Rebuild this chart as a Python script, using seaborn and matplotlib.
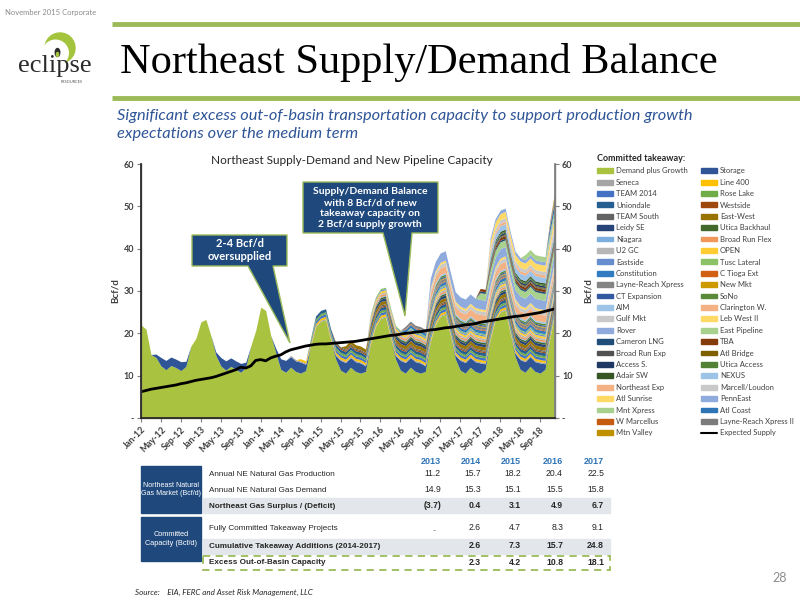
import matplotlib.pyplot as plt
import matplotlib.patches as mpatches
from matplotlib.lines import Line2D
import seaborn as sns
import pandas as pd
import numpy as np

sns.set_theme(style='white')
plt.rcParams['font.family'] = ['Lato', 'DejaVu Sans']

# monthly chart data, Jan-12 .. Dec-18
months = pd.date_range('2012-01-01', '2018-12-01', freq='MS')

demand = [
    22.0, 21.0, 15.0, 14.3, 12.3, 11.4, 12.4, 11.9, 11.2, 12.2, 17.0, 18.8,
    22.7, 23.3, 19.5, 14.8, 12.3, 11.3, 12.2, 11.5, 10.8, 12.0, 17.0, 20.7,
    26.2, 25.4, 19.5, 15.5, 11.5, 10.8, 12.0, 11.0, 10.6, 11.2, 17.0, 21.5,
    22.8, 23.2, 18.5, 14.0, 11.3, 10.6, 12.0, 11.0, 10.6, 11.0, 17.5, 21.5,
    23.5, 23.8, 19.0, 14.0, 11.3, 10.6, 12.0, 11.0, 10.6, 11.0, 18.0, 22.0,
    24.0, 24.5, 19.5, 14.0, 11.3, 10.6, 12.0, 11.0, 10.6, 11.5, 18.5, 23.0,
    25.0, 25.5, 20.0, 14.5, 11.5, 10.8, 12.2, 11.0, 10.6, 11.5, 19.0, 25.0,
]
storage = [
    0, 0, 0, 0.8, 2.0, 2.2, 2.0, 2.0, 2.1, 1.2, 0, 0,
    0, 0, 0, 0.8, 2.0, 2.2, 2.0, 2.0, 2.1, 1.2, 0, 0,
    0, 0, 0, 1.0, 2.5, 2.8, 2.5, 2.5, 2.6, 1.5, 0, 0,
    0, 0, 0, 0.8, 2.3, 2.5, 2.3, 2.3, 2.4, 1.3, 0, 0,
    0, 0, 0, 0.8, 2.3, 2.5, 2.3, 2.3, 2.4, 1.3, 0, 0,
    0, 0, 0, 0.8, 2.3, 2.5, 2.3, 2.3, 2.4, 1.3, 0, 0,
    0, 0, 0, 0.8, 2.3, 2.5, 2.3, 2.3, 2.4, 1.3, 0, 0,
]
expected_supply = [
    6.2, 6.5, 6.8, 7.0, 7.2, 7.4, 7.6, 7.8, 8.1, 8.3, 8.6, 8.9,
    9.1, 9.3, 9.5, 9.8, 10.2, 10.6, 11.0, 11.4, 12.0, 11.8, 12.3, 13.6,
    13.8, 13.5, 14.2, 14.6, 14.9, 15.6, 16.1, 16.4, 16.7, 17.0, 17.2, 17.4,
    17.5, 17.5, 17.6, 17.7, 17.8, 17.9, 18.0, 18.1, 18.3, 18.5, 18.7, 18.9,
    19.1, 19.3, 19.5, 19.6, 19.8, 20.0, 20.1, 20.3, 20.4, 20.6, 20.8, 20.9,
    21.1, 21.3, 21.4, 21.6, 21.8, 22.0, 22.1, 22.3, 22.6, 22.8, 23.0, 23.2,
    23.4, 23.6, 23.8, 24.0, 24.1, 24.3, 24.5, 24.7, 24.9, 25.2, 25.5, 25.8,
]

# committed takeaway projects: in-service month and capacity (Bcf/d)
takeaway_names = [
    'Seneca', 'Line 400', 'TEAM 2014', 'Rose Lake', 'Uniondale', 'Westside',
    'TEAM South', 'East-West', 'Leidy SE', 'Utica Backhaul', 'Niagara',
    'Broad Run Flex', 'U2 GC', 'OPEN', 'Eastside', 'Tusc Lateral',
    'Constitution', 'C Tioga Ext', 'Layne-Reach Xpress', 'New Mkt',
    'CT Expansion', 'SoNo', 'AIM', 'Clarington W.', 'Gulf Mkt', 'Leb West II',
    'Rover', 'East Pipeline', 'Cameron LNG', 'TBA', 'Broad Run Exp',
    'Atl Bridge', 'Access S.', 'Utica Access', 'Adair SW', 'NEXUS',
    'Northeast Exp', 'Marcell/Loudon', 'Atl Sunrise', 'PennEast',
    'Mnt Xpress', 'Atl Coast', 'W Marcellus', 'Layne-Reach Xpress II',
    'Mtn Valley',
]
takeaway_start = [
    '2014-07', '2014-09', '2014-11', '2014-11', '2014-12', '2015-04',
    '2015-04', '2015-06', '2015-11', '2015-11', '2015-11',
    '2015-11', '2015-11', '2015-11', '2015-11', '2015-11',
    '2016-06', '2016-06', '2016-06', '2016-11',
    '2016-11', '2016-11', '2016-11', '2016-11', '2016-11', '2016-11',
    '2016-11', '2017-09', '2017-09', '2017-09', '2017-11',
    '2017-11', '2017-11', '2017-11', '2017-11', '2017-11',
    '2017-11', '2017-11', '2017-11', '2017-11',
    '2018-06', '2018-11', '2018-11', '2018-11',
    '2018-12',
]
takeaway_bcfd = [
    0.3, 0.5, 0.6, 0.5, 0.7, 0.3,
    0.3, 0.8, 0.6, 0.4, 0.2,
    0.4, 0.4, 0.5, 0.3, 0.3,
    0.7, 0.2, 0.6, 0.2,
    0.3, 0.4, 0.4, 1.6, 0.8, 0.5,
    2.2, 1.6, 0.4, 0.6, 0.2,
    0.2, 0.4, 0.3, 0.4, 1.3,
    0.6, 0.8, 1.5, 0.8,
    1.2, 1.5, 0.5, 0.6,
    1.0,
]
takeaway_colors = [
    '#a5a5a5', '#ffc000', '#4472c4', '#70ad47', '#255e91', '#9e480e',
    '#636363', '#997300', '#264478', '#43682b', '#7cafdd',
    '#f1975a', '#b7b7b7', '#ffcd33', '#698ed0', '#8cc168',
    '#327dc2', '#d26012', '#848484', '#cc9a00',
    '#335aa1', '#5a8a39', '#9dc3e6', '#f4b183', '#c9c9c9', '#ffd966',
    '#8faadc', '#a9d18e', '#1f4e79', '#843c0c', '#525252',
    '#7f6000', '#203864', '#548235', '#375623', '#9dc3e6',
    '#f4b183', '#c9c9c9', '#ffd966', '#8faadc',
    '#a9d18e', '#2e75b6', '#c55a11', '#7b7b7b',
    '#bf9000',
]

# table under the chart
years = ['2013', '2014', '2015', '2016', '2017']
ne_production = [11.2, 15.7, 18.2, 20.4, 22.5]
ne_demand = [14.9, 15.3, 15.1, 15.5, 15.8]
ne_surplus = [-3.7, 0.4, 3.1, 4.9, 6.7]
committed_projects = [None, 2.6, 4.7, 8.3, 9.1]
cumulative_additions = [None, 2.6, 7.3, 15.7, 24.8]
excess_capacity = [None, 2.3, 4.2, 10.8, 18.1]

# build stacked layers
x = np.arange(len(months))
layer_names = ['Demand plus Growth', 'Storage'] + takeaway_names
layer_colors = ['#a9c23f', '#2f5597'] + takeaway_colors
layers = [np.array(demand), np.array(storage)]
for start, cap in zip(takeaway_start, takeaway_bcfd):
    layers.append(np.where(months >= pd.Timestamp(start), cap, 0.0))
df = pd.DataFrame(np.column_stack(layers), index=x, columns=layer_names)

fig = plt.figure(figsize=(8, 6), dpi=100)
fig.patch.set_facecolor('white')

ax = fig.add_axes([141 / 800, 1 - 418 / 600, 414 / 800, 254 / 600])
ax.stackplot(df.index, df.T.values, colors=layer_colors, linewidth=0)
sns.lineplot(x=x, y=expected_supply, ax=ax, color='black', linewidth=2)
ax.set_xlim(0, len(months) - 1)
ax.set_ylim(0, 60)
yt = [0, 10, 20, 30, 40, 50, 60]
ylab = ['-'] + [str(v) for v in yt[1:]]
ax.set_yticks(yt)
ax.set_yticklabels(ylab, fontsize=6.5, color='#404040', fontweight='bold')
ax.set_xticks(x[::4])
ax.set_xticklabels([m.strftime('%b-%y') for m in months[::4]], rotation=45,
                   ha='right', rotation_mode='anchor', fontsize=6.5,
                   color='#404040', fontweight='bold')
ax.set_ylabel('Bcf/d', fontsize=7, fontweight='bold', color='#404040', labelpad=3)
ax.spines['top'].set_visible(False)
for s in ['left', 'bottom', 'right']:
    ax.spines[s].set_color('#7f7f7f')
    ax.spines[s].set_linewidth(1)
ax.tick_params(axis='both', direction='out', length=3, width=0.8,
               color='#7f7f7f', left=True, bottom=True, pad=2)

ax2 = ax.twinx()
ax2.set_ylim(0, 60)
ax2.set_yticks(yt)
ax2.set_yticklabels(ylab, fontsize=6.5, color='#404040', fontweight='bold')
ax2.set_ylabel('Bcf/d', fontsize=7, fontweight='bold', color='#404040', labelpad=8)
ax2.tick_params(axis='y', direction='out', length=3, width=0.8,
                color='#7f7f7f', right=True, pad=2)
ax2.spines['top'].set_visible(False)
ax2.spines['right'].set_color('#7f7f7f')
ax2.grid(False)

# legend, filled row by row like the original
handles = [mpatches.Patch(color=c, label=n) for n, c in zip(layer_names, layer_colors)]
handles.append(Line2D([], [], color='black', lw=1.5, label='Expected Supply'))
ordered = handles[0::2] + handles[1::2]
fig.legend(handles=ordered, ncol=2, loc='upper left',
           bbox_to_anchor=(597 / 800, 1 - 154 / 600), frameon=False,
           fontsize=5.5, handlelength=2.15, handleheight=0.6, labelspacing=0.575,
           columnspacing=1.7, handletextpad=0.35, borderpad=0, borderaxespad=0,
           title='Committed takeaway:', alignment='left',
           title_fontproperties={'weight': 'bold', 'size': 6.5},
           labelcolor='#404040')

# overlay in pixel coordinates
ov = fig.add_axes([0, 0, 1, 1], zorder=5)
ov.set_xlim(0, 800)
ov.set_ylim(600, 0)
ov.axis('off')
ov.patch.set_alpha(0)

green = '#9bbb59'
navy = '#1f497d'
ov.text(5, 12, 'November 2015 Corporate', fontsize=5.5, color='#8c8c8c', va='center')
ov.plot([112, 800], [24, 24], color=green, lw=3.5, solid_capstyle='butt')
ov.plot([112, 800], [98, 98], color=green, lw=3.5, solid_capstyle='butt')
ov.text(120, 62, 'Northeast Supply/Demand Balance', fontsize=30.5,
        family=['Liberation Serif', 'DejaVu Serif'], va='center', color='black')

# logo
ov.add_patch(mpatches.Circle((60, 48), 15, color='#a3c43c'))
ov.add_patch(mpatches.Circle((55.5, 53), 12.8, color='white'))
ov.add_patch(mpatches.Ellipse((57.5, 52.5), 4.5, 8, color='#2b2b2b'))
ov.add_patch(mpatches.Ellipse((57.5, 54.5), 2.2, 4, color='#a3c43c'))
ov.text(55, 66, 'eclipse', fontsize=19, family=['Liberation Serif', 'DejaVu Serif'],
        ha='center', va='center', color='#2b2b2b')
ov.text(72, 82, 'RESOURCES', fontsize=2.8, ha='center', va='center', color='#555555')

ov.text(117, 125, 'Significant excess out-of-basin transportation capacity to support production growth\n'
        'expectations over the medium term', fontsize=11.8, style='italic',
        color='#2f5597', va='center', linespacing=1.3)

ov.text(352, 161, 'Northeast Supply-Demand and New Pipeline Capacity', fontsize=8.5,
        ha='center', va='center', color='#262626')

# callouts
call1 = [(192, 235), (287, 235), (287, 266), (273, 266), (290, 343), (248, 266), (192, 266)]
call2 = [(303, 182), (438, 182), (438, 233), (412, 233), (405, 316), (383, 233), (303, 233)]
for pts in [call1, call2]:
    ov.add_patch(mpatches.Polygon(pts, closed=True, facecolor=navy, edgecolor=green, lw=1))
ov.text(240, 250, '2-4 Bcf/d\noversupplied', fontsize=8, color='white',
        ha='center', va='center', fontweight='bold', linespacing=1.3)
ov.text(370, 208, 'Supply/Demand Balance\nwith 8 Bcf/d of new\ntakeaway capacity on\n2 Bcf/d supply growth',
        fontsize=7.5, color='white', ha='center', va='center', fontweight='bold',
        linespacing=1.25)

# table
tfont = ['Liberation Sans', 'DejaVu Sans']
col_x = [441, 481, 521, 563, 604]
for cx, yr in zip(col_x, years):
    ov.text(cx, 461, yr, fontsize=6.5, color='#2e75b6', fontweight='bold',
            ha='right', va='center', family=tfont)
ov.add_patch(mpatches.Rectangle((141, 466), 60, 47, color=navy))
ov.add_patch(mpatches.Rectangle((141, 517), 60, 44, color=navy))
ov.text(171, 489.5, 'Northeast Natural\nGas Market (Bcf/d)', fontsize=5.1, color='white',
        ha='center', va='center', family=tfont, linespacing=1.35)
ov.text(171, 539, 'Committed\nCapacity (Bcf/d)', fontsize=5.3, color='white',
        ha='center', va='center', family=tfont, linespacing=1.35)
ov.add_patch(mpatches.Rectangle((203, 498), 407, 15, color='#e3e6ea'))
ov.add_patch(mpatches.Rectangle((203, 539), 407, 15, color='#e3e6ea'))
ov.add_patch(mpatches.Rectangle((203, 556), 407, 14, fill=False, edgecolor=green,
                                lw=1.3, ls=(0, (4, 3))))


def fmt(v):
    if v is None:
        return ''
    return '(%.1f)' % -v if v < 0 else '%.1f' % v


rows = [
    ('Annual NE Natural Gas Production', ne_production, 474, 'normal'),
    ('Annual NE Natural Gas Demand', ne_demand, 490, 'normal'),
    ('Northeast Gas Surplus / (Deficit)', ne_surplus, 506, 'bold'),
    ('Fully Committed Takeaway Projects', committed_projects, 528, 'normal'),
    ('Cumulative Takeaway Additions (2014-2017)', cumulative_additions, 546, 'bold'),
    ('Excess Out-of-Basin Capacity', excess_capacity, 562.5, 'bold'),
]
for label, vals, ry, w in rows:
    ov.text(209, ry, label, fontsize=5.9, fontweight=w, color='#262626',
            va='center', family=tfont)
    for cx, v in zip(col_x, vals):
        ov.text(cx, ry, fmt(v), fontsize=6.2, fontweight=w, color='#262626',
                ha='right', va='center', family=tfont)
ov.text(434, 531, '-', fontsize=6, color='#555555', ha='center', va='center')

ov.text(135, 592, 'Source:    EIA, FERC and Asset Risk Management, LLC', fontsize=5.8,
        style='italic', color='#262626', va='center')
ov.text(780, 578, '28', fontsize=9, color='#8c8c8c', ha='center', va='center')

plt.savefig('out.png', dpi=100)
